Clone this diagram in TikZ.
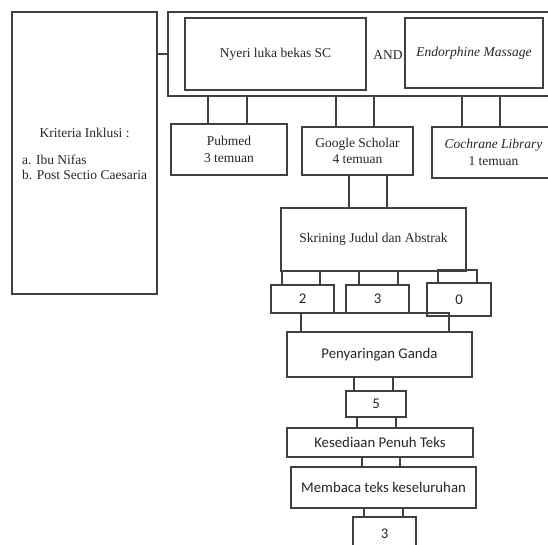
\documentclass[tikz,border=0pt]{standalone}
\usepackage{fontspec}
\setmainfont{Liberation Serif}
\newfontfamily\calfont{Carlito}
\newcommand\bxx[7]{\node[bx,#6,minimum width={#4-#2},minimum height={#5-#3}] (#1) at ({(#2+#4)/2},{(#3+#5)/2}) {#7};}
\begin{document}
\begin{tikzpicture}[x=1pt,y=-1pt,
  bx/.style={draw=black!75,line width=1.2pt,inner sep=0pt,anchor=center},
  tx/.style={font=\fontsize{13.5}{16.5}\selectfont,align=center,text=black!85},
  cx/.style={font=\calfont\fontsize{14.8}{17}\selectfont,text=black!85},
  ln/.style={draw=black!75,line width=1.2pt}]
\useasboundingbox (0,0) rectangle (548,545);
\clip (0,0) rectangle (548,545);
\fill[white] (0,0) rectangle (548,545);
% top area
\bxx{kriteria}{12}{12}{157}{294}{}{}
\bxx{outer}{168}{12}{560}{96}{}{}
\bxx{nyeri}{185}{18}{366}{90}{tx}{Nyeri luka bekas SC}
\bxx{endo}{405}{18}{543}{88}{tx}{\textit{Endorphine Massage}}
\node[tx,inner sep=0] (and) at (388,55) {AND};
\node[tx,inner sep=0] (ktitle) at (84.5,133) {Kriteria Inklusi :};
\node[tx,inner sep=0,align=left,anchor=west,font=\fontsize{13.5}{15.5}\selectfont] (klist) at (22,167.5) {a. Ibu Nifas\\b. Post Sectio Caesaria};
\draw[ln] (kriteria.east |- nyeri.west) -- (outer.west |- nyeri.west);
% source connectors and boxes
\bxx{cPub}{208}{96}{247}{124}{}{}
\bxx{cGoo}{336}{96}{374}{127}{}{}
\bxx{cCoc}{462}{96}{500}{127}{}{}
\bxx{pub}{171}{124}{287}{175}{tx}{Pubmed\\3 temuan}
\bxx{goo}{302}{127}{413}{175}{tx}{Google Scholar\\4 temuan}
\bxx{coc}{432}{127}{555}{178}{tx}{\textit{Cochrane Library}\\1 temuan}
% screening
\bxx{cSk}{349}{175}{387}{208}{}{}
\bxx{skr}{281}{208}{466}{271}{tx}{Skrining Judul dan Abstrak}
\bxx{c1}{282}{271}{320}{285}{}{}
\bxx{c2}{359}{271}{398}{285}{}{}
\bxx{c3}{438}{270}{477}{283}{}{}
\bxx{n2}{271}{285}{334}{313}{cx}{2}
\bxx{n3}{346}{285}{409}{313}{cx}{3}
\bxx{n0}{427}{283}{491}{316}{cx}{0}
\bxx{cW}{301}{313}{449}{332}{}{}
\bxx{pen}{287}{332}{472}{377}{cx}{Penyaringan Ganda}
\bxx{c5}{354}{377}{393}{391}{}{}
\bxx{n5}{346}{391}{406}{417}{cx}{5}
\bxx{cK}{357}{417}{396}{428}{}{}
\bxx{kes}{287}{428}{473}{457}{cx}{Kesediaan Penuh Teks}
\bxx{cM}{362}{457}{400}{467}{}{}
\bxx{mem}{291}{467}{476}{508}{cx}{Membaca teks keseluruhan}
\bxx{cF}{364}{508}{403}{517}{}{}
\bxx{nF}{353}{517}{416}{550}{cx}{3}
\end{tikzpicture}
\end{document}
